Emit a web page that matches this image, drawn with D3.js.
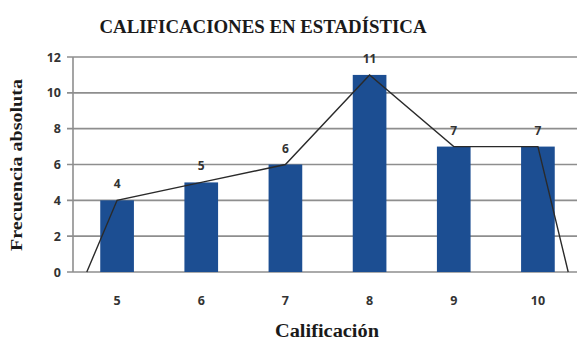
<!DOCTYPE html>
<html><head><meta charset="utf-8">
<script src="https://cdn.jsdelivr.net/npm/d3@7"></script>
<style>body{margin:0;background:#fff}svg{display:block}</style>
</head><body>
<script>
const grades = [5, 6, 7, 8, 9, 10];
const freqs = [4, 5, 6, 11, 7, 7];
const polyGrades = [4.64, 5, 6, 7, 8, 9, 10, 10.36];
const polyFreqs = [0, 4, 5, 6, 11, 7, 7, 0];
const yTicks = [0, 2, 4, 6, 8, 10, 12];

const W = 577, H = 342;
const m = {left: 75, right: -3, top: 57, bottom: 70};
const svg = d3.select("body").append("svg").attr("width", W).attr("height", H);

const x = d3.scaleBand().domain(grades).range([m.left, W - m.right]).paddingInner(0.6).paddingOuter(0.3);
const step = x.step();
const xc = g => x(grades[0]) + x.bandwidth() / 2 + (g - grades[0]) * step;
const y = d3.scaleLinear().domain([0, 12]).range([272, m.top]);
const tickFont = "Open Sans, Liberation Sans, sans-serif";
const serif = "Liberation Serif, Times New Roman, serif";

// gridlines
svg.append("g").selectAll("line").data(yTicks).join("line")
  .attr("x1", 67).attr("x2", W).attr("y1", d => y(d)).attr("y2", d => y(d))
  .attr("stroke", "#8e8e8e").attr("stroke-width", 1.6);
// y axis line
svg.append("line").attr("x1", 73).attr("x2", 73).attr("y1", y(12)).attr("y2", y(0))
  .attr("stroke", "#8e8e8e").attr("stroke-width", 1.6);

// y tick labels
svg.append("g").selectAll("text").data(yTicks).join("text")
  .attr("x", 61).attr("y", d => y(d)).attr("dy", "0.36em").attr("text-anchor", "end")
  .attr("font-family", tickFont).attr("font-weight", "bold")
  .attr("font-size", 12.5).attr("fill", "#333").text(d => d);

// bars
svg.append("g").selectAll("rect").data(grades).join("rect")
  .attr("x", d => x(d)).attr("width", x.bandwidth())
  .attr("y", (d, i) => y(freqs[i])).attr("height", (d, i) => y(0) - y(freqs[i]))
  .attr("fill", "#1c4e92");

// polygon line
const line = d3.line().x(d => xc(d[0])).y(d => y(d[1]));
svg.append("path").datum(polyGrades.map((g, i) => [g, polyFreqs[i]]))
  .attr("d", line).attr("fill", "none").attr("stroke", "#2a2a2a").attr("stroke-width", 1.4);

// value labels
svg.append("g").selectAll("text").data(grades).join("text")
  .attr("x", d => xc(d)).attr("y", (d, i) => y(freqs[i]) - 12)
  .attr("text-anchor", "middle")
  .attr("font-family", tickFont).attr("font-weight", "bold")
  .attr("font-size", 12).attr("fill", "#333").text((d, i) => freqs[i]);

// x tick labels
svg.append("g").selectAll("text").data(grades).join("text")
  .attr("x", d => xc(d)).attr("y", 305)
  .attr("text-anchor", "middle")
  .attr("font-family", tickFont).attr("font-weight", "bold")
  .attr("font-size", 12.5).attr("fill", "#333").text(d => d);

// title
svg.append("text").attr("x", 263).attr("y", 33).attr("text-anchor", "middle")
  .attr("font-family", serif).attr("font-weight", "bold")
  .attr("font-size", 18).attr("fill", "#1a1a1a")
  .attr("textLength", 327).attr("lengthAdjust", "spacingAndGlyphs")
  .text("CALIFICACIONES EN ESTADÍSTICA");

// axis titles
svg.append("text").attr("x", 327).attr("y", 337).attr("text-anchor", "middle")
  .attr("font-family", serif).attr("font-weight", "bold")
  .attr("font-size", 18).attr("fill", "#1a1a1a")
  .attr("textLength", 104).attr("lengthAdjust", "spacingAndGlyphs")
  .text("Calificación");
svg.append("text").attr("transform", "translate(22,165) rotate(-90)").attr("text-anchor", "middle")
  .attr("font-family", serif).attr("font-weight", "bold")
  .attr("font-size", 16.5).attr("fill", "#1a1a1a")
  .attr("textLength", 172).attr("lengthAdjust", "spacingAndGlyphs")
  .text("Frecuencia absoluta");
</script>
</body></html>
